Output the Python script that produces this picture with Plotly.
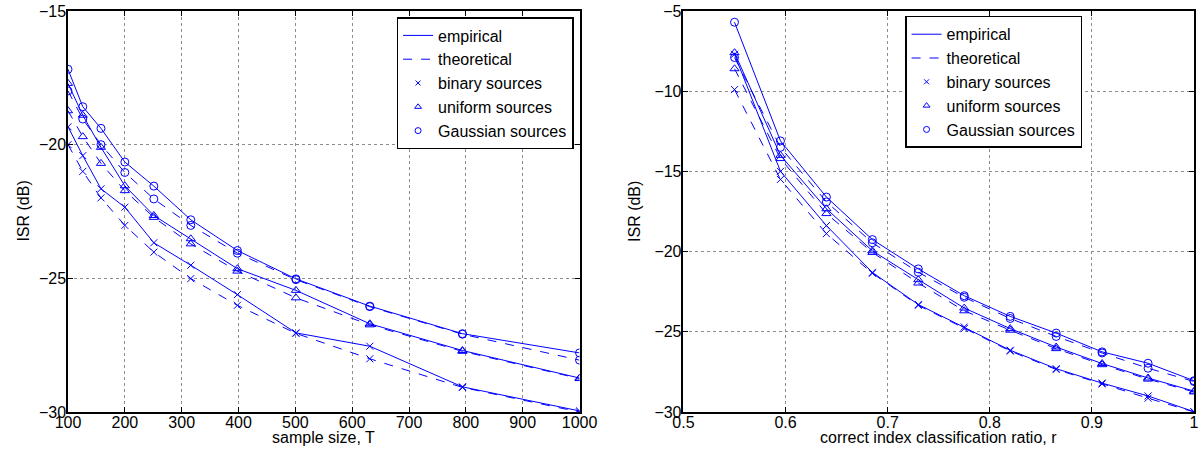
import plotly.graph_objects as go
from plotly.subplots import make_subplots

# ---- left panel data: ISR vs sample size ----
T = [100, 126, 158, 200, 251, 316, 398, 501, 631, 794, 1000]
L_gauss_emp = [-17.18, -18.58, -19.39, -20.65, -21.55, -22.81, -23.96, -25.02, -26.04, -27.07, -27.79]
L_gauss_theo = [-17.99, -19.04, -20.0, -21.04, -22.03, -23.02, -24.06, -25.05, -26.06, -27.09, -28.06]
L_unif_emp = [-17.71, -18.9, -20.1, -21.54, -22.65, -23.52, -24.64, -25.45, -26.7, -27.7, -28.73]
L_unif_theo = [-18.73, -19.7, -20.7, -21.72, -22.72, -23.71, -24.73, -25.73, -26.74, -27.73, -28.75]
L_bin_emp = [-19.33, -20.41, -21.65, -22.34, -23.67, -24.51, -25.61, -27.04, -27.54, -29.06, -29.96]
L_bin_theo = [-20.0, -21.0, -21.99, -23.02, -24.02, -25.01, -26.01, -27.06, -28.01, -29.08, -30.0]

# ---- right panel data: ISR vs correct index classification ratio ----
R = [0.55, 0.595, 0.64, 0.685, 0.73, 0.775, 0.82, 0.865, 0.91, 0.955, 1.0]
R_gauss_emp = [-5.7, -13.1, -16.6, -19.25, -21.08, -22.75, -24.04, -25.08, -26.25, -26.96, -28.05]
R_gauss_theo = [-7.9, -13.5, -16.9, -19.45, -21.29, -22.85, -24.17, -25.29, -26.32, -27.27, -28.1]
R_unif_emp = [-7.6, -14.0, -17.33, -19.95, -21.75, -23.52, -24.8, -25.95, -26.98, -27.88, -28.7]
R_unif_theo = [-8.6, -14.2, -17.63, -20.05, -21.96, -23.69, -24.9, -26.05, -27.05, -27.95, -28.75]
R_bin_emp = [-7.7, -15.0, -18.38, -21.3, -23.3, -24.7, -26.15, -27.3, -28.2, -29.0, -29.98]
R_bin_theo = [-9.9, -15.5, -18.88, -21.35, -23.35, -24.8, -26.2, -27.35, -28.25, -29.14, -30.0]

left_x_ticks = [100, 200, 300, 400, 500, 600, 700, 800, 900, 1000]
left_y_ticks = [-30, -25, -20, -15]
right_x_ticks = [0.5, 0.6, 0.7, 0.8, 0.9, 1.0]
right_x_labels = ["0.5", "0.6", "0.7", "0.8", "0.9", "1"]
right_y_ticks = [-30, -25, -20, -15, -10, -5]

legend_names = ["empirical", "theoretical", "binary sources", "uniform sources", "Gaussian sources"]
x_titles = ["sample size, T", "correct index classification ratio, r"]
y_title = "ISR (dB)"

BLUE = "#0000ff"
FONT = "Liberation Sans, Arial, Helvetica, sans-serif"
MSYM = {"bin": "x-thin-open", "unif": "triangle-up-open", "gauss": "circle-open"}
MSIZE = {"bin": 7, "unif": 8, "gauss": 8}

fig = make_subplots(rows=1, cols=2, horizontal_spacing=0.0926)

def add_panel(col, x, series, legend):
    for key, emp, theo in series:
        for y, dash in ((emp, "solid"), (theo, "dash")):
            fig.add_trace(go.Scatter(
                x=x, y=y, mode="lines+markers", showlegend=False,
                line=dict(color=BLUE, width=1, dash=dash),
                marker=dict(symbol=MSYM[key], size=MSIZE[key], color=BLUE,
                            line=dict(color=BLUE, width=1)),
            ), row=1, col=col)
    # legend entries
    fig.add_trace(go.Scatter(x=[None], y=[None], mode="lines", name=legend_names[0],
                             line=dict(color=BLUE, width=1, dash="solid"), legend=legend),
                  row=1, col=col)
    fig.add_trace(go.Scatter(x=[None], y=[None], mode="lines", name=legend_names[1],
                             line=dict(color=BLUE, width=1, dash="dash"), legend=legend),
                  row=1, col=col)
    for key, nm in (("bin", legend_names[2]), ("unif", legend_names[3]), ("gauss", legend_names[4])):
        fig.add_trace(go.Scatter(x=[None], y=[None], mode="markers", name=nm, legend=legend,
                                 marker=dict(symbol=MSYM[key], size=MSIZE[key] - 2, color=BLUE,
                                             line=dict(color=BLUE, width=1))),
                      row=1, col=col)

add_panel(1, T, [("bin", L_bin_emp, L_bin_theo), ("unif", L_unif_emp, L_unif_theo),
                 ("gauss", L_gauss_emp, L_gauss_theo)], "legend")
add_panel(2, R, [("bin", R_bin_emp, R_bin_theo), ("unif", R_unif_emp, R_unif_theo),
                 ("gauss", R_gauss_emp, R_gauss_theo)], "legend2")

axis_common = dict(showline=True, linecolor="black", linewidth=1.5, mirror="ticks",
                   ticks="inside", ticklen=5, tickcolor="black", tickwidth=1,
                   showgrid=True, gridcolor="#8c8c8c", griddash="dot", gridwidth=1,
                   zeroline=False, automargin=False,
                   tickfont=dict(size=16, color="black", family=FONT))

fig.update_xaxes(axis_common, ticklabelstandoff=-5)
fig.update_yaxes(axis_common, ticklabelstandoff=-3)
fig.update_xaxes(row=1, col=1, range=[100, 1000], tickvals=left_x_ticks, domain=[0.0, 0.4543])
fig.update_yaxes(row=1, col=1, range=[-30, -15], tickvals=left_y_ticks)
fig.update_xaxes(row=1, col=2, range=[0.5, 1.0], tickvals=right_x_ticks,
                 ticktext=right_x_labels, domain=[0.5466, 1.0])
fig.update_yaxes(row=1, col=2, range=[-30, -5], tickvals=right_y_ticks)

title_font = dict(size=16, color="black", family=FONT)
annotations = []
for xc, txt in ((0.2272, x_titles[0]), (0.7733, x_titles[1])):
    annotations.append(dict(text=txt, xref="paper", yref="paper", x=xc, y=-0.064,
                            xanchor="center", yanchor="middle", showarrow=False,
                            font=title_font))
for xc in (-0.0399, 0.5031):
    annotations.append(dict(text=y_title, xref="paper", yref="paper", x=xc, y=0.5,
                            xanchor="center", yanchor="middle", textangle=-90,
                            showarrow=False, font=title_font))

leg_common = dict(bgcolor="white", bordercolor="black", borderwidth=1.5,
                  font=dict(size=16, color="black", family=FONT),
                  xanchor="right", yanchor="top", tracegroupgap=0, itemwidth=30)

fig.update_layout(
    width=1203, height=455,
    margin=dict(l=68, r=9, t=11, b=43, autoexpand=False),
    paper_bgcolor="white", plot_bgcolor="white",
    font=dict(family=FONT, color="black"),
    legend=dict(leg_common, x=0.449, y=0.985),
    legend2=dict(leg_common, x=0.9006, y=0.988),
    annotations=annotations,
)

fig.write_html("out.html", config={"displayModeBar": False},
               post_script="document.body.style.margin='0px';")
